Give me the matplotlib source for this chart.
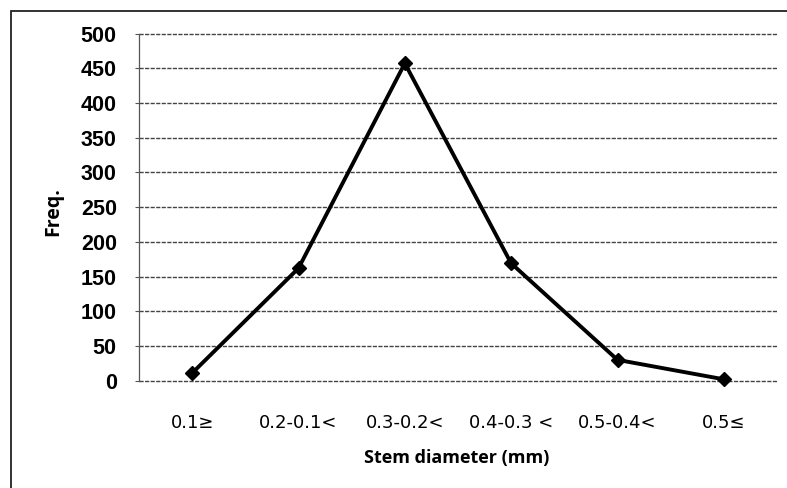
import matplotlib
matplotlib.use("Agg")
import matplotlib.pyplot as plt
from matplotlib.patches import Rectangle

categories = ["0.1\u2265", "0.2-0.1<", "0.3-0.2<", "0.4-0.3 <", "0.5-0.4<", "0.5\u2264"]
freq = [11, 162, 457, 169, 30, 2]
y_ticks = [0, 50, 100, 150, 200, 250, 300, 350, 400, 450, 500]

W, H = 787, 488
fig = plt.figure(figsize=(W / 100, H / 100), dpi=100)
fig.patch.set_facecolor("white")

L, R, T, B = 139, 777, 33.5, 380.7
ax = fig.add_axes([L / W, 1 - B / H, (R - L) / W, (B - T) / H])

# outer chart frame (left and top edges visible)
fig.add_artist(Rectangle((10.5 / W, -0.1), 1.2, 1 - 11.5 / H + 0.1,
                         transform=fig.transFigure, fill=False,
                         edgecolor="#222222", linewidth=1.3, clip_on=False))

x = list(range(len(categories)))
ax.plot(x, freq, color="black", linewidth=2.8, marker="D", markersize=7.5,
        markerfacecolor="black", markeredgecolor="black", zorder=3,
        clip_on=False)

ax.set_xlim(-0.5, len(categories) - 0.5)
ax.set_ylim(0, 500)
ax.set_yticks(y_ticks)
ax.set_yticklabels([str(v) for v in y_ticks], fontfamily="Liberation Sans",
                   fontweight="bold", fontsize=15.5)
ax.set_xticks(x)
ax.set_xticklabels(categories, fontfamily="DejaVu Sans", fontsize=13)

ax.grid(axis="y", color="#444444", linewidth=1.0, linestyle=(0, (3, 1)))
for gl in ax.get_ygridlines():
    gl.set_clip_on(False)
ax.set_axisbelow(True)
for s in ["top", "right", "bottom"]:
    ax.spines[s].set_visible(False)
ax.spines["left"].set_color("#555555")
ax.spines["left"].set_linewidth(0.9)
ax.spines["left"].set_linestyle((0, (2, 1)))

ax.tick_params(axis="y", length=3, width=0.8, color="#555555", pad=13)
ax.tick_params(axis="x", length=0, pad=24)

ax.set_xlabel("Stem diameter (mm)", fontfamily="Open Sans", fontweight="bold",
              fontsize=13, va="center")
ax.xaxis.set_label_coords(0.4977, -0.2226)
ax.set_ylabel("Freq.", fontfamily="Open Sans", fontweight="bold",
              fontsize=14, va="center")
ax.yaxis.set_label_coords(-0.1348, 0.486)

fig.savefig("out.png", dpi=100, facecolor="white")
